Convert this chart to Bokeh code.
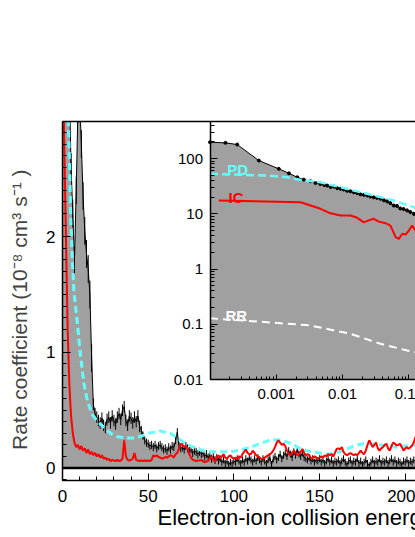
import numpy as np
from bokeh.plotting import figure
from bokeh.models import (Range1d, LogScale, LinearAxis, LogAxis, SingleIntervalTicker,
                          FixedTicker, LogTicker, CustomJSTickFormatter, Title, Span)
from bokeh.core.properties import value
from bokeh.embed import file_html
from bokeh.resources import INLINE

FONT = "Liberation Sans"

# ---------------- main panel data (eV, 1e-8 cm^3 s^-1) ----------------
energy = list(range(0, 207))
exp_rate = [
    3.6, 3.6, 3.5, 3.4, 3.3, 2.6, 2.2, 1.8, 2.4, 3.1,
    3.2, 2.8, 2.35, 2.05, 1.85, 1.72, 1.5, 0.95, 0.55, 0.47,
    0.44, 0.41, 0.39, 0.43, 0.37, 0.35, 0.42, 0.44, 0.39, 0.45,
    0.41, 0.38, 0.44, 0.47, 0.42, 0.5, 0.53, 0.41, 0.37, 0.45,
    0.43, 0.39, 0.44, 0.4, 0.45, 0.36, 0.33, 0.28, 0.24, 0.22,
    0.21, 0.19, 0.2, 0.18, 0.2, 0.17, 0.19, 0.2, 0.18, 0.16,
    0.17, 0.15, 0.18, 0.16, 0.19, 0.18, 0.24, 0.31, 0.19, 0.17,
    0.18, 0.16, 0.19, 0.17, 0.15, 0.16, 0.13, 0.15, 0.14, 0.12,
    0.14, 0.12, 0.13, 0.1, 0.12, 0.09, 0.11, 0.08, 0.1, 0.07,
    0.09, 0.06, 0.08, 0.05, 0.07, 0.04, 0.06, 0.03, 0.05, 0.04,
    0.06, 0.05, 0.08, 0.06, 0.04, 0.07, 0.05, 0.08, 0.06, 0.09,
    0.07, 0.05, 0.08, 0.06, 0.09, 0.07, 0.05, 0.08, 0.06, 0.04,
    0.07, 0.09, 0.03, 0.08, 0.1, 0.07, 0.09, 0.12, 0.08, 0.11,
    0.13, 0.1, 0.15, 0.12, 0.09, 0.14, 0.11, 0.16, 0.12, 0.1,
    0.13, 0.09, 0.08, 0.07, 0.09, 0.06, 0.08, 0.05, 0.07, 0.06,
    0.08, 0.05, 0.07, 0.04, 0.06, 0.08, 0.05, 0.07, 0.04, 0.06,
    0.05, 0.07, 0.04, 0.06, 0.08, 0.05, 0.03, 0.06, 0.07, 0.04,
    0.06, 0.05, 0.08, 0.04, 0.06, 0.03, 0.05, 0.07, 0.04, 0.02,
    0.05, 0.07, 0.04, 0.06, 0.05, 0.08, 0.04, 0.06, 0.05, 0.07,
    0.04, 0.06, 0.08, 0.05, 0.07, 0.04, 0.06, 0.05, 0.03, 0.06,
    0.05, 0.07, 0.04, 0.06, 0.05, 0.07, 0.06,
]
err_edges = [0, 18, 46, 90, 207]
err_vals = [0.12, 0.05, 0.035, 0.03]

ic_rate = [
    4.0, 2.8, 2.0, 1.2, 0.72, 0.45, 0.3, 0.22, 0.18, 0.2,
    0.16, 0.19, 0.15, 0.17, 0.13, 0.16, 0.12, 0.14, 0.11, 0.13,
    0.1, 0.12, 0.09, 0.11, 0.08, 0.09, 0.07, 0.08, 0.06, 0.07,
    0.065, 0.06, 0.07, 0.06, 0.065, 0.08, 0.24, 0.1, 0.07, 0.065,
    0.07, 0.08, 0.13, 0.07, 0.065, 0.06, 0.065, 0.06, 0.065, 0.06,
    0.065, 0.06, 0.07, 0.11, 0.1, 0.11, 0.095, 0.09, 0.08, 0.085,
    0.095, 0.09, 0.1, 0.11, 0.105, 0.09, 0.12, 0.13, 0.17, 0.21,
    0.2, 0.18, 0.19, 0.17, 0.12, 0.09, 0.07, 0.065, 0.06, 0.065,
    0.065, 0.07, 0.06, 0.05, 0.055, 0.065, 0.08, 0.1, 0.07, 0.06,
    0.09, 0.11, 0.08, 0.1, 0.12, 0.09, 0.08, 0.1, 0.11, 0.09,
    0.08, 0.09, 0.08, 0.1, 0.09, 0.12, 0.14, 0.16, 0.13, 0.12,
    0.12, 0.15, 0.13, 0.11, 0.1, 0.09, 0.08, 0.08, 0.09, 0.1,
    0.11, 0.12, 0.13, 0.15, 0.18, 0.22, 0.24, 0.22, 0.2, 0.21,
    0.19, 0.15, 0.12, 0.11, 0.13, 0.15, 0.13, 0.11, 0.12, 0.14,
    0.165, 0.13, 0.11, 0.12, 0.11, 0.08, 0.09, 0.1, 0.09, 0.085,
    0.09, 0.1, 0.09, 0.11, 0.1, 0.12, 0.11, 0.12, 0.1, 0.13,
    0.165, 0.17, 0.16, 0.18, 0.14, 0.12, 0.11, 0.12, 0.13, 0.12,
    0.11, 0.12, 0.11, 0.13, 0.15, 0.13, 0.12, 0.15, 0.2, 0.24,
    0.21, 0.18, 0.2, 0.22, 0.17, 0.15, 0.17, 0.18, 0.2, 0.21,
    0.17, 0.15, 0.19, 0.22, 0.21, 0.195, 0.2, 0.21, 0.18, 0.15,
    0.17, 0.18, 0.165, 0.18, 0.195, 0.22, 0.27,
]

pd_energy = [2.5, 3.4, 4.2, 4.8, 5.7, 6.7, 8.7, 10.6, 12.5, 14.5, 17.4, 21.3, 25, 28,
             32, 37, 42, 47, 50, 54, 57, 60, 63, 66, 69, 72, 75, 80, 85, 90, 95, 100,
             105, 110, 115, 120, 124, 128, 132, 136, 140, 145, 150, 155, 160, 165,
             170, 175, 180, 185, 190, 195, 200, 206]
pd_rate = [3.3, 3.0, 2.59, 2.16, 1.81, 1.52, 1.25, 0.96, 0.73, 0.58, 0.46, 0.39, 0.34,
           0.30, 0.27, 0.26, 0.26, 0.28, 0.30, 0.31, 0.32, 0.31, 0.30, 0.27, 0.24, 0.21,
           0.19, 0.16, 0.14, 0.14, 0.14, 0.145, 0.16, 0.18, 0.21, 0.235, 0.245, 0.24,
           0.22, 0.19, 0.16, 0.14, 0.13, 0.12, 0.13, 0.16, 0.19, 0.21, 0.21, 0.2, 0.19,
           0.18, 0.19, 0.2]

# ---------------- inset data (log-log) ----------------
in_x = [1.0e-4, 1.71e-4, 2.57e-4, 5.45e-4, 1.09e-3, 1.55e-3, 2.07e-3, 2.6e-3, 3.28e-3,
        3.9e-3, 4.6e-3, 5.3e-3, 5.86e-3, 6.6e-3, 7.4e-3, 8.3e-3, 9.3e-3, 0.0104, 0.0117,
        0.0131, 0.01476, 0.0165, 0.0185, 0.0208, 0.0235, 0.0262, 0.0295, 0.033, 0.0373,
        0.042, 0.047, 0.0525, 0.0592, 0.066, 0.074, 0.083, 0.094, 0.105, 0.1186, 0.13]
in_exp = [197, 192, 179, 92, 65, 54, 45.8, 41.5, 38.8, 36, 34.5, 33, 32.4, 30.5, 31, 29,
          28.3, 27.5, 26, 25.5, 24.5, 23.8, 22.5, 22, 21.4, 20.5, 19.8, 19.5, 18.7, 17.5,
          16.8, 15.6, 14.1, 13.9, 12.5, 12.2, 11.5, 10.8, 10.0, 9.6]
in_err = [4, 4, 4, 3, 2, 2, 1.5, 1.8, 2, 1.6, 2.2, 1.8, 2.0, 1.5, 2.1, 1.7, 1.6, 1.8, 1.4,
          1.7, 1.5, 1.6, 1.3, 1.5, 1.2, 1.4, 1.3, 1.5, 1.2, 1.1, 1.3, 1.0, 1.0, 1.1, 0.9,
          1.0, 0.8, 0.9, 0.8, 0.8]

in_pd_x = [1.0e-4, 7.3e-4, 1.46e-3, 2.32e-3, 4.64e-3, 9.3e-3, 0.0235, 0.0592, 0.1186, 0.13]
in_pd = [52.8, 49.2, 45.8, 41, 37.2, 30.2, 23, 17.4, 13.1, 12.6]

in_ic_x = [1.36e-4, 2.32e-3, 3.28e-3, 4.64e-3, 6.56e-3, 9.3e-3, 0.01315, 0.0166, 0.0209,
           0.0248, 0.0295, 0.0352, 0.0444, 0.0527, 0.063, 0.0705, 0.0794, 0.089, 0.1,
           0.112, 0.126]
in_ic = [17.4, 16.2, 14.1, 12.3, 10.2, 9.3, 9.3, 8.45, 7.0, 7.6, 8.1, 7.2, 6.75, 6.1,
         3.77, 3.52, 4.34, 4.2, 4.98, 6.1, 5.0]

in_rr_x = [1.0e-4, 7.3e-4, 3.28e-3, 0.0131, 0.0373, 0.094, 0.13]
in_rr = [0.128, 0.109, 0.095, 0.0672, 0.0443, 0.0335, 0.031]

in_label_x = [1.82e-4, 1.9e-4, 1.71e-4]
in_label_y = [62.4, 19.9, 0.144]
in_label_text = ["PD", "IC", "RR"]
in_label_color = ["#66ffff", "#ff0000", "#ffffff"]

# ---------------- figure ----------------
W, H = 415, 537
BL, BT = 62, 121
FH = 359
BB = H - BT - FH

GRAY = "#a0a0a0"
CYAN = "#66ffff"
RED = "#ff0000"

p = figure(width=W, height=H, output_backend="svg", toolbar_location=None,
           x_range=Range1d(0, 206), y_range=Range1d(-0.108, 2.995),
           x_axis_type=None, y_axis_type=None,
           min_border_left=BL, min_border_right=0, min_border_top=BT, min_border_bottom=BB)
p.outline_line_color = None
p.background_fill_color = "white"

# inset coordinate system (log-log) overlaid on the same frame
p.extra_x_ranges = {"ix": Range1d(10 ** -6.225, 10 ** -0.9005)}
p.extra_y_ranges = {"iy": Range1d(10 ** -3.828, 10 ** 2.67)}
p.extra_x_scales = {"ix": LogScale()}
p.extra_y_scales = {"iy": LogScale()}


def style(ax, size="17px"):
    ax.axis_line_width = 1.5
    ax.major_tick_out = 0
    ax.minor_tick_out = 0
    ax.major_label_text_font = FONT
    ax.major_label_text_font_size = size
    ax.major_label_text_color = "black"
    ax.axis_line_color = "black"
    ax.major_tick_line_color = "black"
    ax.minor_tick_line_color = "black"


xa = LinearAxis(ticker=SingleIntervalTicker(interval=50, num_minor_ticks=5))
style(xa)
xa.major_tick_in = 7
xa.minor_tick_in = 4
xa.major_label_standoff = 9
p.add_layout(xa, "below")

ya = LinearAxis(ticker=SingleIntervalTicker(interval=1, num_minor_ticks=10),
                axis_label="Rate coefficient (10\u207b\u2078  cm\u00b3  s\u207b\u00b9  )")
style(ya)
ya.major_tick_in = 8
ya.minor_tick_in = 4
ya.major_label_standoff = 7
ya.axis_label_text_font = FONT
ya.axis_label_text_font_size = "21px"
ya.axis_label_text_font_style = "normal"
ya.axis_label_standoff = 12
p.add_layout(ya, "left")

ta = LinearAxis(ticker=FixedTicker(ticks=[]), major_label_text_font_size="0px",
                axis_line_width=1.5, major_tick_in=0, major_tick_out=0,
                minor_tick_in=0, minor_tick_out=0)
p.add_layout(ta, "above")

xlabel = Title(text="Electron-ion collision energy (eV)", align="left", offset=95,
               text_font=FONT, text_font_size="22px", text_font_style="normal",
               text_color="black", standoff=-3)
p.add_layout(xlabel, "below")

# main data
E = np.array(energy, dtype=float)
R = np.array(exp_rate)
err = np.array(err_vals)[np.searchsorted(err_edges, E, side="right") - 1]

p.varea(x=E, y1=0, y2=R, fill_color=GRAY)
p.segment(x0=E, y0=R - err, x1=E, y1=R + err, line_color="black", line_width=1)
p.line(E, R, line_color="black", line_width=1)
p.line(pd_energy, pd_rate, line_color=CYAN, line_width=3, line_dash="7 4")
p.line(energy, ic_rate, line_color=RED, line_width=2)
p.add_layout(Span(location=0, dimension="width", line_color="black", line_width=2.5))

# ---------------- inset ----------------
IN_X0, IN_Y0 = 1e-4, 1e-2
fmt = CustomJSTickFormatter(code="if (Math.abs(Math.log10(tick) + 4) < 0.01) {return '';} "
                                 "return String(Number(tick.toPrecision(3)));")

iax = LogAxis(x_range_name="ix", y_range_name="iy", fixed_location=IN_Y0,
              bounds=(IN_X0, 10 ** -0.9005), ticker=LogTicker(num_minor_ticks=10),
              formatter=fmt)
style(iax, "15px")
iax.major_tick_in = 5
iax.minor_tick_in = 3
iax.major_label_standoff = 9
p.add_layout(iax, "below")

iay = LogAxis(x_range_name="ix", y_range_name="iy", fixed_location=IN_X0,
              bounds=(IN_Y0, 10 ** 2.67), ticker=LogTicker(num_minor_ticks=10),
              formatter=fmt)
style(iay, "15px")
iay.major_tick_in = 7
iay.minor_tick_in = 4
iay.major_label_standoff = 7
p.add_layout(iay, "left")

IX = np.array(in_x)
IV = np.array(in_exp)
IE = np.array(in_err)
p.varea(x=IX, y1=IN_Y0, y2=IV, fill_color=GRAY, x_range_name="ix", y_range_name="iy")
p.segment(x0=IX, y0=IV - IE, x1=IX, y1=IV + IE, line_color="black", line_width=1,
          x_range_name="ix", y_range_name="iy")
p.line(IX, IV, line_color="black", line_width=1, x_range_name="ix", y_range_name="iy")
p.scatter(IX, IV, size=3, color="black", x_range_name="ix", y_range_name="iy")
p.line(in_pd_x, in_pd, line_color=CYAN, line_width=2.5, line_dash="8 4",
       x_range_name="ix", y_range_name="iy")
p.line(in_ic_x, in_ic, line_color=RED, line_width=2, x_range_name="ix", y_range_name="iy")
p.line(in_rr_x, in_rr, line_color="white", line_width=2, line_dash="8 5",
       x_range_name="ix", y_range_name="iy")
p.text(x=in_label_x, y=in_label_y, text=in_label_text, text_color=in_label_color,
       text_font=value(FONT), text_font_style="bold", text_font_size="15px",
       text_baseline="alphabetic", x_range_name="ix", y_range_name="iy")

open("out.html", "w").write(file_html(p, INLINE))
